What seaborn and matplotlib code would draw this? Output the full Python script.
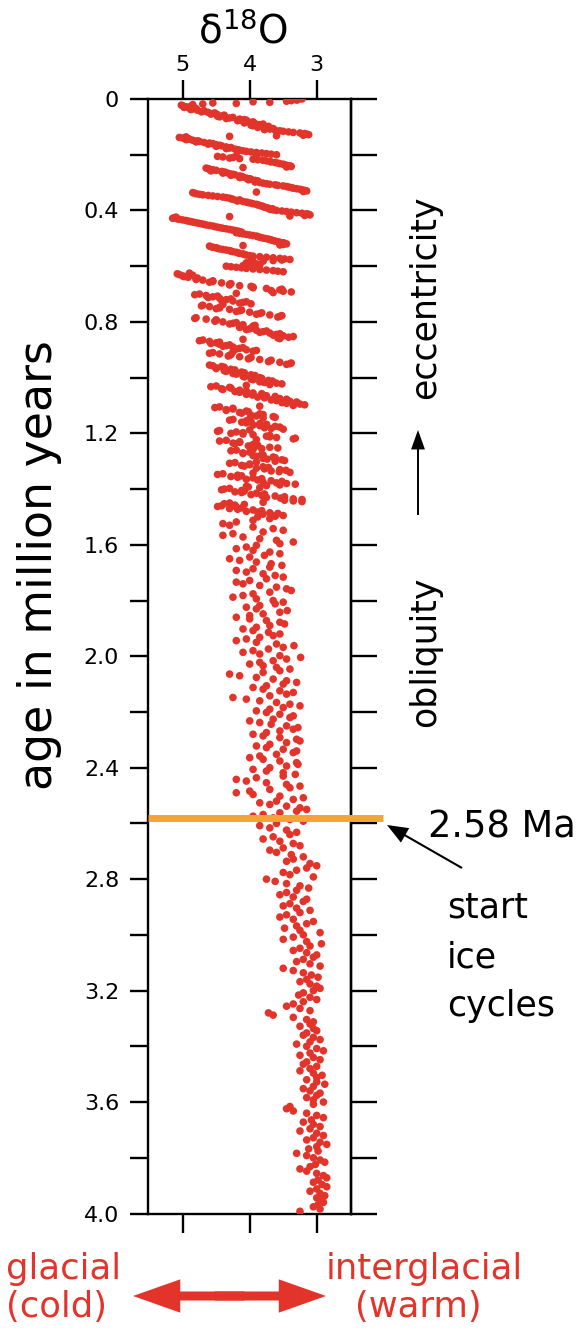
import numpy as np
import pandas as pd
import matplotlib
matplotlib.use("Agg")
import matplotlib.pyplot as plt
import seaborn as sns
from matplotlib.patches import FancyArrowPatch

# ---------------- data ----------------
# age (Ma) and benthic d18O (permil), in age segments
age_a = [0.000,0.004,0.008,0.012,0.016,0.020,0.024,0.028,0.032,0.036,0.040,0.044,0.048,0.052,0.056,0.060,0.064,0.068,0.072,0.076,
         0.080,0.084,0.088,0.092,0.096,0.100,0.104,0.108,0.112,0.116,0.120,0.124,0.128,0.132,0.136,0.140,0.144,0.148,0.152,0.156,
         0.160,0.164,0.168,0.172,0.176,0.180,0.184,0.188,0.192,0.196,0.200,0.204,0.208,0.212,0.216,0.220,0.224,0.228,0.232,0.236,
         0.240,0.244,0.248,0.252,0.256,0.260,0.264,0.268,0.272,0.276,0.280,0.284,0.288,0.292,0.296,0.300,0.304,0.308,0.312,0.316,
         0.320,0.324,0.328,0.332,0.336,0.340,0.344,0.348,0.352,0.356,0.360,0.364,0.368,0.372,0.376,0.380,0.384,0.388,0.392,0.396,
         0.400,0.404,0.408,0.412,0.416,0.420,0.424,0.428,0.432,0.436,0.440,0.444,0.448,0.452,0.456,0.460,0.464,0.468,0.472,0.476,
         0.480,0.484,0.488,0.492,0.496,0.500,0.504,0.508,0.512,0.516,0.520,0.524,0.528,0.532,0.536,0.540,0.544,0.548,0.552,0.556,
         0.560,0.564,0.568,0.572,0.576,0.580,0.584,0.588,0.592,0.596,0.600,0.604,0.608,0.612,0.616,0.620]
d18o_a = [3.22,3.30,3.45,3.70,4.20,4.85,5.00,4.95,4.90,4.85,4.78,4.70,4.62,4.55,4.48,4.40,4.45,4.30,4.15,4.05,
          4.10,4.00,3.92,3.85,3.95,3.80,3.75,3.70,3.62,3.50,3.35,3.18,3.12,3.60,
          4.95,5.00,4.90,4.85,4.75,4.68,4.55,4.50,4.42,4.35,4.30,4.22,4.15,4.05,3.90,3.75,3.60,4.20,4.40,4.30,
          3.95,3.80,3.70,3.62,3.55,3.48,3.40,3.45,
          4.65,4.60,4.50,4.42,4.35,4.30,4.22,4.15,4.10,4.05,3.98,3.92,3.88,3.85,3.75,3.62,3.50,3.42,3.35,3.25,3.18,3.20,
          4.85,4.80,4.70,4.55,4.40,4.30,4.25,4.20,4.10,4.02,3.95,3.88,3.82,3.78,3.72,3.70,3.60,3.45,3.30,3.15,3.10,3.40,
          5.10,5.15,5.05,4.95,4.88,4.80,4.72,4.65,4.55,4.48,4.40,4.30,4.22,4.15,4.20,4.10,4.00,3.90,3.85,3.78,3.70,3.65,
          3.58,3.50,3.45,3.55,
          4.60,4.55,4.48,4.40,4.30,4.25,4.18,4.10,4.05,3.95,3.75,3.55,3.40,3.65,3.95,4.05,3.90,3.85,4.35,4.20,4.05,3.85,3.65,3.50]

# in-between samples of the densely sampled top section
age_a2 = [0.002,0.006,0.010,0.014,0.018,0.022,0.026,0.030,0.034,0.038,0.042,0.046,0.050,0.054,0.058,0.062,0.066,0.070,0.074,0.078,
          0.082,0.086,0.090,0.094,0.098,0.102,0.106,0.110,0.114,0.118,0.122,0.126,0.130,0.134,0.138,0.142,0.146,0.150,0.154,0.158,
          0.162,0.166,0.170,0.174,0.178,0.182,0.186,0.190,0.194,0.198,0.202,0.206,0.210,0.214,0.218,0.222,0.226,0.230,0.234,0.238,
          0.242,0.246,0.250,0.254,0.258,0.262,0.266,0.270,0.274,0.278,0.282,0.286,0.290,0.294,0.298,0.302,0.306,0.310,0.314,0.318,
          0.322,0.326,0.330,0.334,0.338,0.342,0.346,0.350,0.354,0.358,0.362,0.366,0.370,0.374,0.378,0.382,0.386,0.390,0.394,0.398,
          0.402,0.406,0.410,0.414,0.418,0.422,0.426,0.430,0.434,0.438,0.442,0.446,0.450,0.454,0.458,0.462,0.466,0.470,0.474,0.478,
          0.482,0.486,0.490,0.494,0.498,0.502,0.506,0.510,0.514,0.518,0.522,0.526,0.530,0.534,0.538,0.542,0.546,0.550,0.554,0.558,
          0.562,0.566,0.570,0.574,0.578,0.582,0.586,0.590,0.594,0.598,0.602,0.606,0.610,0.614,0.618]
d18o_a2 = [3.28,3.38,3.95,4.55,4.70,5.02,4.88,4.98,4.80,4.88,4.68,4.72,4.52,4.58,4.38,4.48,4.25,4.35,4.08,4.18,
           3.95,4.08,3.80,3.98,3.72,3.88,3.65,3.78,3.55,3.42,3.25,3.15,3.20,4.30,
           5.05,4.92,4.95,4.78,4.80,4.60,4.62,4.45,4.50,4.28,4.35,4.18,4.10,3.98,3.82,3.68,3.90,4.48,4.25,4.15,
           3.88,3.75,3.68,3.58,3.50,3.45,3.38,4.10,
           4.62,4.55,4.58,4.38,4.40,4.25,4.28,4.12,4.15,4.00,4.02,3.88,3.92,3.80,3.70,3.58,3.45,3.38,3.30,3.22,3.15,3.90,
           4.82,4.75,4.62,4.48,4.35,4.28,4.15,4.18,4.05,3.98,3.90,3.85,3.80,3.75,3.66,3.65,3.52,3.38,3.22,3.12,3.18,4.30,
           5.12,5.08,5.00,4.92,4.84,4.76,4.68,4.60,4.52,4.44,4.35,4.26,4.18,4.12,4.15,4.05,3.95,3.88,3.82,3.74,3.68,3.62,
           3.55,3.48,3.50,4.10,
           4.58,4.50,4.45,4.35,4.28,4.20,4.15,4.08,4.00,3.85,3.65,3.48,3.52,3.80,4.00,3.98,3.88,4.10,4.28,4.12,3.95,3.75,3.58]

age_b = [0.625,0.630,0.635,0.640,0.645,0.650,0.655,0.660,0.665,0.670,0.675,0.680,0.685,0.690,0.695,0.700,0.705,0.710,0.715,0.720,
         0.725,0.730,0.735,0.740,0.745,0.750,0.755,0.760,0.765,0.770,0.775,0.780,0.785,0.790,0.795,0.800,0.805,0.810,0.815,0.820,
         0.825,0.830,0.835,0.840,0.845,0.850,0.855,0.860,0.865,0.870,0.875,0.880,0.885,0.890,0.895,0.900,0.905,0.910,0.915,0.920,
         0.925,0.930,0.935,0.940,0.945,0.950,0.955,0.960,0.965,0.970,0.975,0.980,0.985,0.990,0.995,1.000,1.005,1.010,1.015,1.020,
         1.025,1.030,1.035,1.040,1.045,1.050,1.055,1.060,1.065,1.070,1.075,1.080,1.085,1.090,1.095,1.100,1.105,1.110,1.115,1.120,
         1.125,1.130,1.135,1.140,1.145,1.150,1.155,1.160,1.165,1.170,1.175,1.180,1.185,1.190,1.195,1.200,1.205,1.210,1.215,1.220,
         1.225,1.230,1.235,1.240,1.245,1.250,1.255,1.260,1.265,1.270,1.275,1.280,1.285,1.290,1.295,1.300,1.305,1.310,1.315,1.320,
         1.325,1.330,1.335,1.340,1.345,1.350,1.355,1.360,1.365,1.370,1.375,1.380,1.385,1.390,1.395,1.400,1.405,1.410,1.415,1.420,
         1.425,1.430,1.435,1.440,1.445,1.450,1.455,1.460,1.465,1.470,1.475,1.480,1.485,1.490,1.495,1.500]
d18o_b = [4.90,5.05,5.00,4.92,4.80,4.70,4.55,4.42,4.30,4.15,3.95,3.75,3.55,3.50,3.65,
          4.75,4.65,4.55,4.45,4.35,4.25,4.10,3.98,
          4.70,4.60,4.45,4.30,4.15,4.00,3.85,3.70,3.55,
          4.80,4.65,4.50,4.40,4.25,4.10,3.95,
          4.15,4.00,3.90,3.80,3.70,3.60,3.50,3.42,3.55,
          4.70,4.60,4.50,4.45,4.35,4.25,4.15,4.05,3.95,
          4.55,4.45,4.30,4.15,4.00,3.85,3.70,3.55,3.40,
          4.60,4.42,4.50,4.28,4.38,4.12,4.25,3.98,4.10,3.85,3.98,3.72,3.85,3.60,3.70,
          4.50,4.30,4.42,4.15,4.22,3.95,4.05,3.75,3.88,3.55,3.68,3.40,3.52,3.25,3.35,
          4.45,4.25,4.35,4.05,4.15,3.85,3.98,3.65,3.80,
          4.25,4.05,4.12,3.85,3.95,3.62,3.78,3.50,
          4.45,4.20,4.28,3.95,3.75,3.60,3.35,
          4.35,4.15,4.25,3.95,4.02,3.70,3.82,
          4.20,3.98,4.10,3.82,3.95,3.65,3.80,3.52,3.62,
          4.22,4.00,4.12,3.80,3.90,3.55,3.68,3.40,
          4.40,4.18,4.28,3.95,4.05,3.68,3.80,3.45,3.55,4.05,3.85,
          4.38,4.12,4.22,3.90,3.98,3.62,3.75,3.35,3.48,3.22,4.30,4.08,
          4.42,4.20,4.30,3.95,4.05,3.70,3.80,3.50,3.88]

# in-between samples for 0.63-1.5 Ma
age_b2 = [0.6275,0.6325,0.6375,0.6425,0.6475,0.6525,0.6575,0.6625,0.6675,0.6725,0.6775,0.6825,0.6875,0.6925,0.6975,
          0.7025,0.7075,0.7125,0.7175,0.7225,0.7275,0.7325,0.7375,0.7425,0.7475,0.7525,0.7575,0.7625,0.7675,0.7725,
          0.7775,0.7825,0.7875,0.7925,0.7975,0.8025,0.8075,0.8125,0.8175,0.8225,0.8275,0.8325,0.8375,0.8425,0.8475,
          0.8525,0.8575,0.8625,0.8675,0.8725,0.8775,0.8825,0.8875,0.8925,0.8975,0.9025,0.9075,0.9125,0.9175,0.9225,
          0.9275,0.9325,0.9375,0.9425,0.9475,0.9525,0.9575,0.9625,0.9675,0.9725,0.9775,0.9825,0.9875,0.9925,0.9975,
          1.0025,1.0075,1.0125,1.0175,1.0225,1.0275,1.0325,1.0375,1.0425,1.0475,1.0525,1.0575,1.0625,1.0675,1.0725,
          1.0775,1.0825,1.0875,1.0925,1.0975,1.1025,1.1075,1.1125,1.1175,1.1225,1.1275,1.1325,1.1375,1.1425,1.1475,
          1.1525,1.1575,1.1625,1.1675,1.1725,1.1775,1.1825,1.1875,1.1925,1.1975,1.2025,1.2075,1.2125,1.2175,1.2225,
          1.2275,1.2325,1.2375,1.2425,1.2475,1.2525,1.2575,1.2625,1.2675,1.2725,1.2775,1.2825,1.2875,1.2925,1.2975,
          1.3025,1.3075,1.3125,1.3175,1.3225,1.3275,1.3325,1.3375,1.3425,1.3475,1.3525,1.3575,1.3625,1.3675,1.3725,
          1.3775,1.3825,1.3875,1.3925,1.3975,1.4025,1.4075,1.4125,1.4175,1.4225,1.4275,1.4325,1.4375,1.4425,1.4475,
          1.4525,1.4575,1.4625,1.4675,1.4725,1.4775,1.4825,1.4875,1.4925,1.4975]
d18o_b2 = [5.08,4.85,4.98,4.78,4.80,4.55,4.60,4.28,4.30,3.98,3.95,3.52,3.68,3.38,4.20,
           4.82,4.48,4.62,4.28,4.42,4.05,4.15,4.40,4.72,4.45,4.50,4.12,4.20,3.82,3.90,
           3.52,3.58,4.82,4.50,4.52,4.20,4.30,3.92,4.15,3.98,4.05,3.75,3.85,3.55,3.65,
           3.35,3.58,4.10,4.75,4.45,4.58,4.30,4.40,4.10,4.20,3.90,4.25,4.60,4.28,4.32,
           3.98,4.02,3.68,3.72,3.38,3.45,4.55,4.38,4.50,4.22,4.35,4.08,4.20,3.92,4.08,
           3.82,3.95,3.66,3.78,3.52,4.05,4.58,4.28,4.40,4.05,4.15,3.82,3.96,3.62,3.78,
           3.45,3.60,3.30,3.45,3.18,3.85,4.52,4.25,4.35,4.02,4.12,3.80,3.90,3.62,4.00,
           4.30,3.98,4.05,3.75,3.85,3.55,3.68,4.00,4.48,4.10,4.10,3.70,3.70,3.32,3.90,
           4.45,4.15,4.22,3.88,3.92,3.58,3.95,4.28,4.00,4.10,3.80,3.90,3.62,3.74,3.48,
           3.90,4.30,4.00,4.08,3.72,3.78,3.46,3.56,3.95,4.48,4.12,4.18,3.82,3.88,3.52,
           3.60,3.32,3.75,4.02,4.30,4.42,4.08,4.12,3.78,3.82,3.48,3.54,3.22,3.35,3.80,
           4.38,4.22,4.48,4.12,4.18,3.82,3.88,3.58,3.68,3.62]

age_c = [1.506,1.512,1.518,1.524,1.530,1.536,1.542,1.548,1.554,1.560,1.566,1.572,1.578,1.584,1.590,1.596,1.602,1.608,1.614,1.620,
         1.626,1.632,1.638,1.644,1.650,1.656,1.662,1.668,1.674,1.680,1.686,1.692,1.698,1.704,1.710,1.716,1.722,1.728,1.734,1.740,
         1.746,1.752,1.758,1.764,1.770,1.776,1.782,1.788,1.794,1.800,1.806,1.812,1.818,1.824,1.830,1.836,1.842,1.848,1.854,1.860,
         1.866,1.872,1.878,1.884,1.890,1.896,1.902,1.908,1.914,1.920,1.926,1.932,1.938,1.944,1.950,1.956,1.962,1.968,1.974,1.980,
         1.986,1.992,1.998,2.004,2.010,2.016,2.022,2.028,2.034,2.040,2.046,2.052,2.058,2.064,2.070,2.076,2.082,2.088,2.094,2.100,
         2.106,2.112,2.118,2.124,2.130,2.136,2.142,2.148,2.154,2.160,2.166,2.172,2.178,2.184,2.190,2.196,2.202,2.208,2.214,2.220,
         2.226,2.232,2.238,2.244,2.250,2.256,2.262,2.268,2.274,2.280,2.286,2.292,2.298,2.304,2.310,2.316,2.322,2.328,2.334,2.340,
         2.346,2.352,2.358,2.364,2.370,2.376,2.382,2.388,2.394,2.400,2.406,2.412,2.418,2.424,2.430,2.436,2.442,2.448,2.454,2.460,
         2.466,2.472,2.478,2.484,2.490,2.496,2.502,2.508,2.514,2.520,2.526,2.532,2.538,2.544,2.550,2.556,2.562,2.568,2.574,2.580,
         2.586,2.592]
d18o_c = [3.70,3.95,4.20,4.40,4.30,3.95,3.65,
          3.50,3.80,4.25,4.40,4.10,3.85,3.60,
          3.35,3.55,3.90,4.05,4.20,3.95,3.70,
          3.55,3.78,4.00,4.30,4.15,3.90,3.68,
          3.52,3.70,3.95,4.20,4.05,3.80,3.62,
          3.50,3.75,4.00,4.20,4.10,3.85,3.60,
          3.45,3.38,3.70,3.95,4.10,4.25,3.90,
          3.65,3.50,3.62,3.85,4.05,3.90,3.44,
          3.55,3.80,4.00,4.20,4.00,3.75,3.55,
          3.48,3.70,3.90,4.10,3.95,3.72,3.55,
          3.65,3.85,4.05,4.20,3.90,3.60,3.34,
          3.50,3.72,3.95,4.10,3.85,3.55,3.24,
          3.45,3.65,3.85,4.00,3.80,3.60,3.40,
          3.55,3.80,4.30,4.15,3.90,3.65,3.45,
          3.30,3.50,3.75,3.95,3.80,3.55,3.35,
          3.45,3.70,4.25,4.05,3.85,3.60,3.40,
          3.25,3.50,3.70,3.90,3.75,3.55,3.35,
          3.40,3.65,4.00,3.85,3.68,3.45,3.28,
          3.35,3.55,3.75,3.95,3.80,3.55,3.30,
          3.25,3.45,3.70,3.90,3.75,3.50,3.30,
          3.35,3.60,3.85,4.00,3.80,3.55,3.30,
          3.28,3.45,3.70,3.95,3.75,3.50,3.32,
          3.50,3.90,4.20,4.05,3.75,3.45,3.25,
          3.40,3.70,4.00,4.20,3.95,3.55,3.20,
          3.35,3.60,3.85,3.70,3.45,3.25,3.15,
          3.30,3.55,3.80,3.95,3.65,3.40,3.20]

age_d = [2.600,2.608,2.616,2.624,2.632,2.640,2.648,2.656,2.664,2.672,2.680,2.688,2.696,2.704,2.712,2.720,2.728,2.736,2.744,2.752,
         2.760,2.768,2.776,2.784,2.792,2.800,2.808,2.816,2.824,2.832,2.840,2.848,2.856,2.864,2.872,2.880,2.888,2.896,2.904,2.912,
         2.920,2.928,2.936,2.944,2.952,2.960,2.968,2.976,2.984,2.992,3.000,3.008,3.016,3.024,3.032,3.040,3.048,3.056,3.064,3.072,
         3.080,3.088,3.096,3.104,3.112,3.120,3.128,3.136,3.144,3.152,3.160,3.168,3.176,3.184,3.192,3.200,3.208,3.216,3.224,3.232,
         3.240,3.248,3.256,3.264,3.272,3.280,3.288,3.296,3.304,3.312,3.320,3.328,3.336,3.344,3.352,3.360,3.368,3.376,3.384,3.392,
         3.400,3.408,3.416,3.424,3.432,3.440,3.448,3.456,3.464,3.472,3.480,3.488,3.496,3.504,3.512,3.520,3.528,3.536,3.544,3.552,
         3.560,3.568,3.576,3.584,3.592,3.600,3.608,3.616,3.624,3.632,3.640,3.648,3.656,3.664,3.672,3.680,3.688,3.696,3.704,3.712,
         3.720,3.728,3.736,3.744,3.752,3.760,3.768,3.776,3.784,3.792,3.800,3.808,3.816,3.824,3.832,3.840,3.848,3.856,3.864,3.872,
         3.880,3.888,3.896,3.904,3.912,3.920,3.928,3.936,3.944,3.952,3.960,3.968,3.976,3.984,3.992]
d18o_d = [3.60,3.85,3.70,3.45,3.30, 3.40,3.65,3.80,3.55,3.35, 3.25,3.50,3.70,3.60,3.38, 3.20,3.35,3.45,3.10,3.00,
          3.15,3.30,3.50,3.40,3.05, 3.75,3.62,3.45,3.25,3.12, 3.30,3.45,3.55,3.35,3.15, 3.20,3.40,3.50,3.30,3.10,
          3.25,3.45,3.55,3.35,3.05, 3.15,3.30,3.48,3.25,2.95, 3.20,3.35,3.50,3.15,2.93, 3.10,3.25,3.35,3.15,3.00,
          3.05,3.20,3.30,3.10,2.95, 3.50,3.35,3.20,3.08,2.98, 3.15,3.25,3.10,3.00,2.95, 3.05,3.20,3.27,3.10,3.00,
          3.20,3.35,3.45,3.25,3.10, 3.72,3.65,3.35,3.15,3.05, 3.10,3.25,3.05,3.00,3.15, 3.20,3.05,2.95,3.10,3.30,
          3.15,3.00,2.90,3.10,3.25, 3.05,2.95,3.15,3.20,3.00, 3.10,3.25,3.05,2.92,3.00, 3.15,3.00,2.88,3.05,3.20,
          3.10,2.95,3.00,3.15,3.05, 2.90,3.05,3.40,3.45,3.35, 3.15,3.00,2.90,3.08,3.20, 3.05,2.95,3.10,3.25,3.00,
          2.90,3.05,3.15,2.95,2.85, 3.00,3.12,2.98,3.30,3.15, 3.05,2.95,2.88,3.02,3.10, 3.25,3.15,3.00,2.90,2.85,
          2.98,3.05,2.92,2.85,3.00, 3.10,2.95,2.88,3.00,2.92, 2.90,2.98,3.05,2.95,3.25]

y_tick_values = [0.0,0.4,0.8,1.2,1.6,2.0,2.4,2.8,3.2,3.6,4.0]
y_tick_labels = ["0","0.4","0.8","1.2","1.6","2.0","2.4","2.8","3.2","3.6","4.0"]
x_tick_values = [5, 4, 3]
boundary_age = 2.58

ages, vals = [], []
for a, d in [(age_a, d18o_a), (age_a2, d18o_a2), (age_b, d18o_b), (age_b2, d18o_b2),
             (age_c, d18o_c), (age_d, d18o_d)]:
    for aa, dd in zip(a, d):
        ages.append(aa); vals.append(dd)
df = pd.DataFrame({"age": ages, "d18O": vals})

# ---------------- style ----------------
sns.set_style("ticks")
plt.rcParams["font.family"] = ["DejaVu Sans"]
plt.rcParams["mathtext.fontset"] = "dejavusans"
for k in ["text.color", "axes.labelcolor", "xtick.color", "ytick.color", "axes.edgecolor"]:
    plt.rcParams[k] = "black"

W, H = 581, 1330
def fx(x): return x / W
def fy(y): return 1 - y / H

RED = "#e3342b"
ORANGE = "#f5a431"

fig = plt.figure(figsize=(W / 100, H / 100), dpi=100)
L, R, T, B = 148.3, 350.7, 99.0, 1213.5
ax = fig.add_axes([fx(L), fy(B), (R - L) / W, (B - T) / H])

sns.scatterplot(data=df, x="d18O", y="age", ax=ax, color=RED, s=30,
                linewidth=0, edgecolor="none", legend=False, zorder=3)

ax.set_xlim(5.513, 2.493)
ax.set_ylim(4.0, 0.0)
ax.set_xlabel("")
ax.set_ylabel("")

for sp in ax.spines.values():
    sp.set_visible(True)
    sp.set_linewidth(1.7)
    sp.set_color("black")

ax.set_xticks(x_tick_values)
ax.set_xticklabels([str(v) for v in x_tick_values])
ax.tick_params(axis="x", which="both", direction="out", length=13.7, width=1.7,
               top=True, bottom=True, labeltop=True, labelbottom=False,
               labelsize=16, pad=3.5, colors="black")

ax.set_yticks(y_tick_values)
ax.set_yticklabels(y_tick_labels)
ax.set_yticks(np.arange(0.2, 4.0, 0.4), minor=True)
ax.tick_params(axis="y", which="both", direction="out", length=13, width=1.7,
               left=True, right=False, labelsize=16, pad=8, colors="black")

sec = ax.secondary_yaxis("right")
sec.set_yticks(np.arange(0, 4.01, 0.2))
sec.set_yticklabels([])
sec.tick_params(axis="y", direction="out", length=19, width=1.7, colors="black")
sec.spines["right"].set_linewidth(1.7)

# 2.58 Ma boundary line (extends past the right frame)
ax.plot([0, (383 - L) / (R - L)], [boundary_age, boundary_age], color=ORANGE, lw=5,
        transform=ax.get_yaxis_transform(), clip_on=False, zorder=4, solid_capstyle="butt")

# ---------------- texts ----------------
fig.text(fx(243), fy(43), r"δ$^{18}$O", ha="center", va="baseline", fontsize=28)
fig.text(fx(40), fy(565), "age in million years", rotation=90, ha="center", va="center", fontsize=33)

fig.text(fx(425), fy(297), "eccentricity", rotation=90, ha="center", va="center", fontsize=25)
fig.text(fx(425), fy(652), "obliquity", rotation=90, ha="center", va="center", fontsize=25)
fig.add_artist(FancyArrowPatch(posA=(fx(418), fy(515)), posB=(fx(418), fy(430)),
                               transform=fig.transFigure, mutation_scale=1, shrinkA=0, shrinkB=0,
                               arrowstyle="simple,head_length=14,head_width=10,tail_width=1.4",
                               color="black", lw=0))

fig.text(fx(428), fy(837), "2.58 Ma", ha="left", va="baseline", fontsize=26.5)
fig.add_artist(FancyArrowPatch(posA=(fx(462), fy(868)), posB=(fx(387), fy(825)),
                               transform=fig.transFigure, mutation_scale=1, shrinkA=0, shrinkB=0,
                               arrowstyle="simple,head_length=15,head_width=12,tail_width=1.5",
                               color="black", lw=0))
fig.text(fx(447), fy(917), "start", ha="left", va="baseline", fontsize=25)
fig.text(fx(447), fy(967), "ice", ha="left", va="baseline", fontsize=25)
fig.text(fx(447), fy(1016), "cycles", ha="left", va="baseline", fontsize=25)

fig.text(fx(6), fy(1279), "glacial", ha="left", va="baseline", fontsize=25.5, color=RED)
fig.text(fx(6), fy(1317), "(cold)", ha="left", va="baseline", fontsize=25.5, color=RED)
fig.text(fx(326), fy(1279), "interglacial", ha="left", va="baseline", fontsize=25.5, color=RED)
fig.text(fx(355), fy(1317), "(warm)", ha="left", va="baseline", fontsize=25.5, color=RED)

mid = (133 + 326) / 2
for start, end in ((mid + 15, 133), (mid - 15, 326)):
    fig.add_artist(FancyArrowPatch(posA=(fx(start), fy(1296)), posB=(fx(end), fy(1296)),
                                   transform=fig.transFigure, mutation_scale=1, shrinkA=0, shrinkB=0,
                                   arrowstyle="simple,head_length=34,head_width=24,tail_width=6.5",
                                   color=RED, lw=0))

fig.savefig("out.png", dpi=100)
